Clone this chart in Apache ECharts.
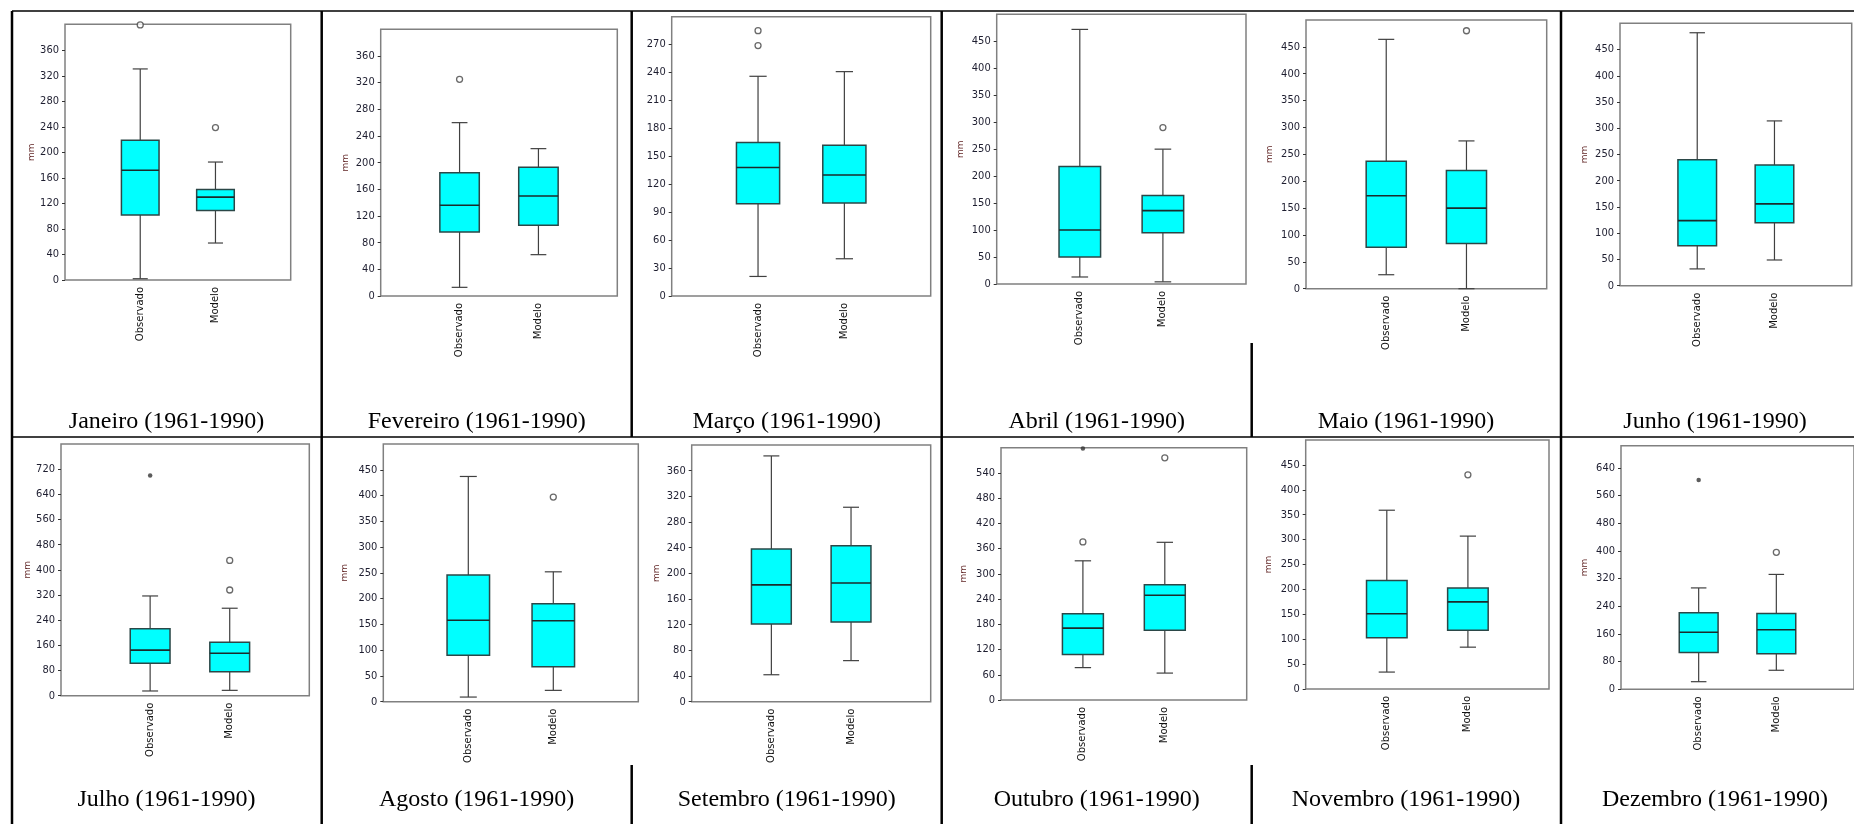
<!DOCTYPE html>
<html>
<head>
<meta charset="utf-8">
<title>Precipitação mensal 1961-1990</title>
<script src="https://cdn.jsdelivr.net/npm/echarts@6/dist/echarts.min.js"></script>
<style>
  html, body { margin: 0; padding: 0; background: #fff; }
  #chart { width: 1854px; height: 824px; }
</style>
</head>
<body>
<div id="chart"></div>
<script>
// dados (mm)
const categories = ['Observado', 'Modelo'];
const months = ['Janeiro', 'Fevereiro', 'Março', 'Abril', 'Maio', 'Junho',
  'Julho', 'Agosto', 'Setembro', 'Outubro', 'Novembro', 'Dezembro'];
const period = '(1961-1990)';

// [min, Q1, mediana, Q3, max]
const observado = [
  [2, 102, 172, 219, 331],
  [13, 96, 136, 185, 260],
  [21, 99, 138, 165, 236],
  [13, 50, 100, 218, 472],
  [26, 77, 173, 237, 464],
  [32, 76, 124, 240, 482],
  [15, 103, 145, 213, 317],
  [9, 90, 158, 246, 437],
  [42, 121, 182, 238, 383],
  [77, 108, 171, 205, 331],
  [34, 103, 151, 218, 359],
  [22, 106, 165, 221, 293]
];
const modelo = [
  [58, 109, 130, 142, 185],
  [62, 106, 150, 193, 221],
  [40, 100, 130, 162, 241],
  [4, 95, 136, 164, 250],
  [0, 84, 150, 220, 275],
  [49, 120, 156, 230, 314],
  [17, 76, 135, 170, 278],
  [22, 68, 157, 190, 252],
  [64, 124, 185, 243, 303],
  [64, 166, 249, 274, 375],
  [84, 118, 175, 203, 307],
  [55, 103, 172, 219, 332]
];
// [mes, categoria, valor]
const outliers = [
  [0, 0, 400], [0, 1, 239], [1, 0, 325], [2, 0, 285], [2, 0, 269],
  [3, 1, 290], [4, 1, 480], [6, 1, 430], [6, 1, 336], [7, 1, 397],
  [9, 0, 376], [9, 1, 576], [10, 1, 430], [11, 1, 396]
];
const extremes = [[6, 0, 700], [9, 0, 598], [11, 0, 605]];

// eixo y: maximo, passo e ultimo rotulo
const yMax = [401, 400, 300, 500, 500, 500, 800, 500, 400, 600, 500, 704];
const yStep = [40, 40, 30, 50, 50, 50, 80, 50, 40, 60, 50, 80];
const yTop = [360, 360, 270, 450, 450, 450, 720, 450, 360, 540, 450, 640];
const yName = ['mm', 'mm', '', 'mm', 'mm', 'mm', 'mm', 'mm', 'mm', 'mm', 'mm', 'mm'];

// layout: [left, top, width, height] de cada moldura
const frames = [
  [65, 24.3, 225.7, 255.7], [380.7, 29.3, 236.6, 266.7], [671.7, 16.7, 259, 279.3],
  [996.7, 14.3, 249.3, 269.7], [1306, 20, 240.7, 268.7], [1620, 23.3, 231.7, 262.4],
  [61, 444, 248.3, 251.7], [383.3, 444, 255, 257.7], [691.7, 445, 239, 256.7],
  [1001, 447.7, 245.7, 252.3], [1305.7, 440, 243.3, 249], [1621, 445.7, 238, 243.6]
];
const nameGaps = [29, 31, 31, 32, 32, 31, 24, 34, 31, 33, 33, 32];
const xRanges = [[0, 3], [0, 3], [0, 3], [0, 3], [0, 3], [0, 3],
  [-0.12, 3.0], [0, 3], [0, 3], [0, 3], [0, 3], [0, 3]];
const titleX = [166.5, 476.7, 786.7, 1096.7, 1406, 1715];
const titleY = [421.7, 800];

const chart = echarts.init(document.getElementById('chart'));

function ticksFor(i) {
  const vals = [];
  for (let v = 0; v <= yTop[i]; v += yStep[i]) vals.push(v);
  return vals;
}

function renderBox(params, api) {
  const x = api.value(0);
  const lo = api.coord([x, api.value(1)]);
  const q1 = api.coord([x, api.value(2)]);
  const med = api.coord([x, api.value(3)]);
  const q3 = api.coord([x, api.value(4)]);
  const hi = api.coord([x, api.value(5)]);
  const unit = api.size([1, 0])[0];
  const bw = unit * 0.5;
  const cw = bw * 0.4;
  const cx = lo[0];
  const whisker = { stroke: '#404040', lineWidth: 1.2 };
  return {
    type: 'group',
    children: [
      { type: 'line', shape: { x1: cx, y1: hi[1], x2: cx, y2: lo[1] }, style: whisker },
      { type: 'line', shape: { x1: cx - cw / 2, y1: hi[1], x2: cx + cw / 2, y2: hi[1] }, style: whisker },
      { type: 'line', shape: { x1: cx - cw / 2, y1: lo[1], x2: cx + cw / 2, y2: lo[1] }, style: whisker },
      { type: 'rect', shape: { x: cx - bw / 2, y: q3[1], width: bw, height: q1[1] - q3[1] },
        style: { fill: '#00ffff', stroke: '#2b4747', lineWidth: 1.5 } },
      { type: 'line', shape: { x1: cx - bw / 2, y1: med[1], x2: cx + bw / 2, y2: med[1] },
        style: { stroke: '#1b2b2b', lineWidth: 1.6 } }
    ]
  };
}

const grid = [], xAxis = [], yAxis = [], series = [], title = [];

months.forEach(function (m, i) {
  const f = frames[i];
  grid.push({
    left: f[0], top: f[1], width: f[2], height: f[3],
    show: true, borderColor: '#808080', borderWidth: 1.5, backgroundColor: 'transparent'
  });
  xAxis.push({
    type: 'value', gridIndex: i, min: xRanges[i][0], max: xRanges[i][1],
    axisLine: { show: false, onZero: false }, axisTick: { show: false }, splitLine: { show: false },
    axisLabel: {
      customValues: [1, 2],
      formatter: function (v) { return categories[Math.round(v) - 1]; },
      rotate: 90, margin: 7,
      fontFamily: 'DejaVu Sans', fontSize: 10, color: '#111'
    }
  });
  const ticks = ticksFor(i);
  yAxis.push({
    type: 'value', gridIndex: i, min: 0, max: yMax[i],
    name: yName[i], nameLocation: 'middle', nameRotate: 90, nameGap: nameGaps[i],
    nameTextStyle: { fontFamily: 'DejaVu Sans', fontSize: 9, color: '#5c1f1f' },
    axisLine: { show: false, onZero: false }, splitLine: { show: false },
    axisTick: { show: true, length: 3, customValues: ticks, lineStyle: { color: '#333', width: 1 } },
    axisLabel: {
      customValues: ticks, margin: 6,
      fontFamily: "'Liberation Sans Narrow', 'DejaVu Sans Condensed', sans-serif",
      fontSize: 11, color: '#1e1e30'
    }
  });
  series.push({
    type: 'custom', xAxisIndex: i, yAxisIndex: i,
    renderItem: renderBox,
    encode: { x: 0, y: [1, 2, 3, 4, 5] },
    data: [[1].concat(observado[i]), [2].concat(modelo[i])],
    silent: true
  });
  series.push({
    type: 'scatter', xAxisIndex: i, yAxisIndex: i, symbol: 'circle', symbolSize: 6,
    itemStyle: { color: '#fff', borderColor: '#444', borderWidth: 1.3 },
    data: outliers.filter(function (o) { return o[0] === i; })
      .map(function (o) { return [o[1] + 1, o[2]]; }),
    silent: true, clip: false, z: 5
  });
  series.push({
    type: 'scatter', xAxisIndex: i, yAxisIndex: i, symbol: 'circle', symbolSize: 4.5,
    itemStyle: { color: '#333' },
    data: extremes.filter(function (o) { return o[0] === i; })
      .map(function (o) { return [o[1] + 1, o[2]]; }),
    silent: true, clip: false, z: 5
  });
  title.push({
    text: m + ' ' + period,
    left: titleX[i % 6], top: titleY[Math.floor(i / 6)] - 12,
    textAlign: 'center', padding: 0,
    textStyle: { fontFamily: 'Liberation Serif', fontSize: 24, fontWeight: 'normal', color: '#000', lineHeight: 24 }
  });
});

// linhas da tabela
const tableLines = [
  [12, 11, 1854, 11, 1.5], [12, 437, 1854, 437, 1.5],
  [12, 11, 12, 824, 2.5], [321.7, 11, 321.7, 824, 2.5],
  [631.7, 11, 631.7, 437, 2.5], [631.7, 765, 631.7, 824, 2.5],
  [941.7, 11, 941.7, 824, 2.5],
  [1251.7, 343, 1251.7, 437, 2.5], [1251.7, 765, 1251.7, 824, 2.5],
  [1561, 11, 1561, 824, 2.5]
];

chart.setOption({
  backgroundColor: '#fff',
  animation: false,
  title: title,
  grid: grid,
  xAxis: xAxis,
  yAxis: yAxis,
  series: series,
  graphic: tableLines.map(function (l) {
    return {
      type: 'line', silent: true, z: 0,
      shape: { x1: l[0], y1: l[1], x2: l[2], y2: l[3] },
      style: { stroke: '#000', lineWidth: l[4] }
    };
  })
});
</script>
</body>
</html>
